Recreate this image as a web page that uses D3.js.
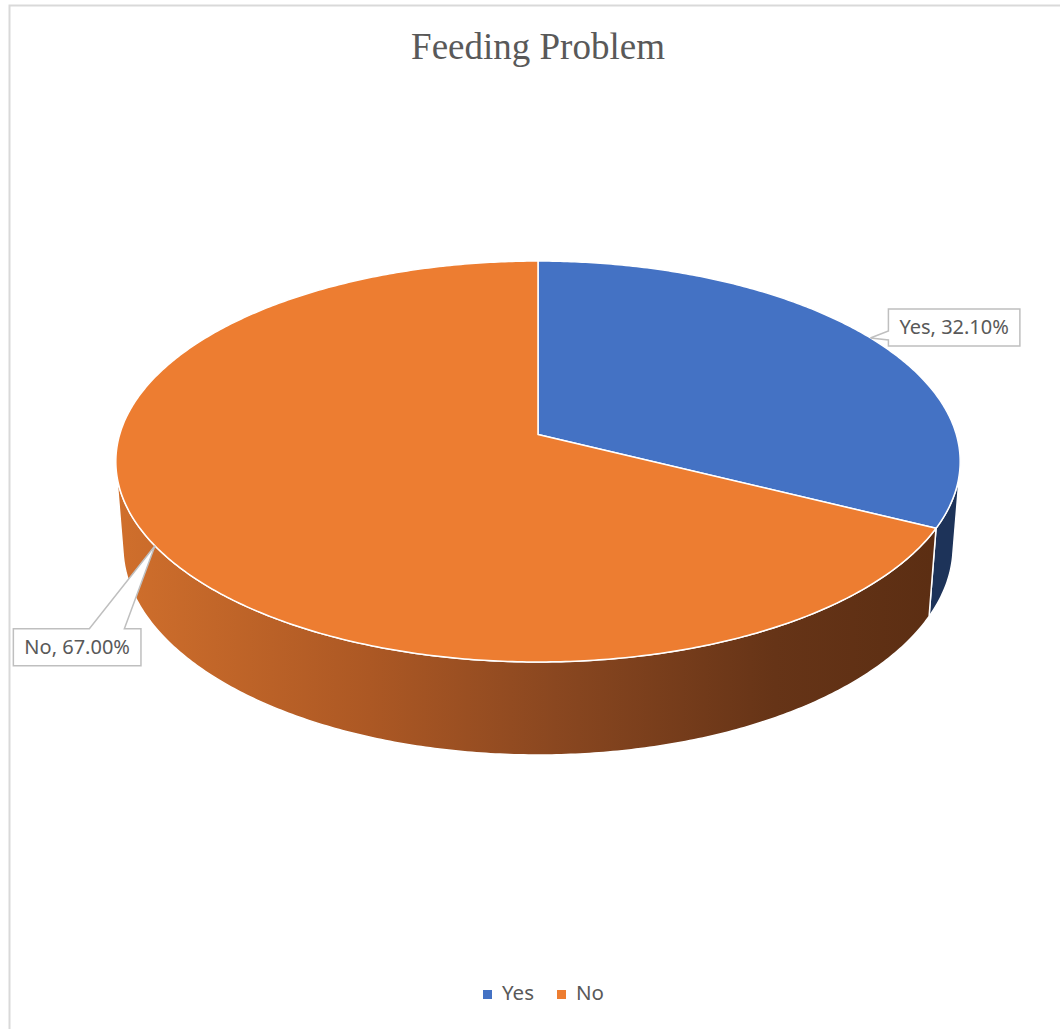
<!DOCTYPE html>
<html>
<head>
<meta charset="utf-8">
<script src="https://cdn.jsdelivr.net/npm/d3@7"></script>
<style>
  html, body { margin: 0; padding: 0; background: #ffffff; }
  svg { display: block; }
</style>
</head>
<body>
<svg id="chart" width="1060" height="1029"></svg>
<script>
// Chart data
const title = "Feeding Problem";
const categories = ["Yes", "No"];
const values = [32.10, 67.00];
const valueLabels = ["32.10%", "67.00%"];
const topColors = ["#4472c4", "#ed7d31"];

const W = 1060, H = 1029;
const svg = d3.select("#chart");
const defs = svg.append("defs");

// Chart frame
svg.append("rect")
  .attr("x", 9.5).attr("y", 5.5)
  .attr("width", W + 20).attr("height", H + 20)
  .attr("fill", "#ffffff")
  .attr("stroke", "#d9d9d9").attr("stroke-width", 2);

// Title
svg.append("text")
  .attr("x", 538).attr("y", 59)
  .attr("text-anchor", "middle")
  .attr("font-family", "'Liberation Serif', 'Times New Roman', serif")
  .attr("font-size", 37)
  .attr("fill", "#595959")
  .text(title);

// --- 3D pie projection (unit disc, tilted toward the viewer, perspective camera) ---
const cx = 538, cy = 434.5;
const sinA = 0.4705, cosA = Math.sqrt(1 - sinA * sinA);
const camDist = 6.55, focal = 2740, thickness = 0.2326;

function project(phi, h) {
  const x = Math.sin(phi), y = Math.cos(phi);
  const yc = y * sinA + h * cosA;
  const zc = camDist + y * cosA - h * sinA;
  return [cx + focal * x / zc, cy - focal * yc / zc];
}

const pie = d3.pie().sort(null).startAngle(0).endAngle(2 * Math.PI);
const arcs = pie(values);

const line = d3.line().curve(d3.curveLinear);

function arcPoints(a0, a1, h) {
  const n = Math.max(2, Math.ceil(Math.abs(a1 - a0) / 0.01));
  return d3.range(n + 1).map(i => project(a0 + (a1 - a0) * i / n, h));
}

// Range of rim angles facing the camera
const vis = Math.acos(-1 / (camDist * cosA));
const visStart = vis, visEnd = 2 * Math.PI - vis;

// Side shading
const sideGrad = defs.append("linearGradient")
  .attr("id", "sideNo")
  .attr("gradientUnits", "userSpaceOnUse")
  .attr("x1", 117).attr("y1", 0).attr("x2", 960).attr("y2", 0);
[[0, "#d06f2c"], [0.3, "#ac5824"], [0.52, "#8a4720"], [0.78, "#663417"], [1, "#5a2d12"]]
  .forEach(([o, c]) => sideGrad.append("stop").attr("offset", o).attr("stop-color", c));
const sideFills = ["#1d3359", "url(#sideNo)"];

const gSide = svg.append("g");
arcs.forEach((a, i) => {
  const s = Math.max(a.startAngle, visStart), e = Math.min(a.endAngle, visEnd);
  if (e <= s) return;
  const pts = arcPoints(s, e, 0).concat(arcPoints(e, s, -thickness));
  gSide.append("path")
    .attr("d", line(pts) + "Z")
    .attr("fill", sideFills[i])
    .attr("stroke", "#ffffff").attr("stroke-width", 1.5)
    .attr("stroke-linejoin", "round");
});

// Top faces
const gTop = svg.append("g");
arcs.forEach((a, i) => {
  const pts = [[cx, cy]].concat(arcPoints(a.startAngle, a.endAngle, 0));
  gTop.append("path")
    .attr("d", line(pts) + "Z")
    .attr("fill", topColors[i])
    .attr("stroke", "#ffffff").attr("stroke-width", 1.5)
    .attr("stroke-linejoin", "round");
});

// Data callouts
const labelFont = "'Noto Sans', 'Open Sans', sans-serif";
const gLab = svg.append("g");
arcs.forEach((a, i) => {
  const mid = (a.startAngle + a.endAngle) / 2;
  const tip = project(mid, 0);
  const txt = categories[i] + ", " + valueLabels[i];
  const t = gLab.append("text")
    .attr("font-family", labelFont).attr("font-size", 20)
    .attr("fill", "#595959")
    .attr("text-anchor", "middle")
    .text(txt);
  const tw = t.node().getComputedTextLength();
  const bw = tw + 22, bh = 37;
  let x0, y0, d;
  if (Math.sin(mid) >= 0) {
    // box to the right, pointer from its left edge
    x0 = tip[0] + 18; y0 = tip[1] - 29;
    const b1 = y0 + 22, b2 = y0 + 31;
    d = `M${x0},${y0}H${x0 + bw}V${y0 + bh}H${x0}V${b2}L${tip[0]},${tip[1]}L${x0},${b1}Z`;
  } else {
    // box below-left, pointer from its top edge
    x0 = tip[0] - 14 - bw; y0 = tip[1] + 83;
    const b1 = x0 + 76, b2 = x0 + 111;
    d = `M${x0},${y0}H${b1}L${tip[0]},${tip[1]}L${b2},${y0}H${x0 + bw}V${y0 + bh}H${x0}Z`;
  }
  gLab.insert("path", "text")
    .attr("d", d)
    .attr("fill", "#ffffff")
    .attr("stroke", "#bfbfbf").attr("stroke-width", 1.5)
    .attr("stroke-linejoin", "miter");
  t.attr("x", x0 + bw / 2).attr("y", y0 + bh / 2 + 7);
});

// Legend
const gLeg = svg.append("g");
const legX = [483, 557];
categories.forEach((c, i) => {
  gLeg.append("rect")
    .attr("x", legX[i]).attr("y", 990)
    .attr("width", 9).attr("height", 9)
    .attr("fill", topColors[i]);
  gLeg.append("text")
    .attr("x", legX[i] + 19).attr("y", 999.5)
    .attr("font-family", labelFont).attr("font-size", 20.5)
    .attr("fill", "#595959")
    .text(c);
});
</script>
</body>
</html>
